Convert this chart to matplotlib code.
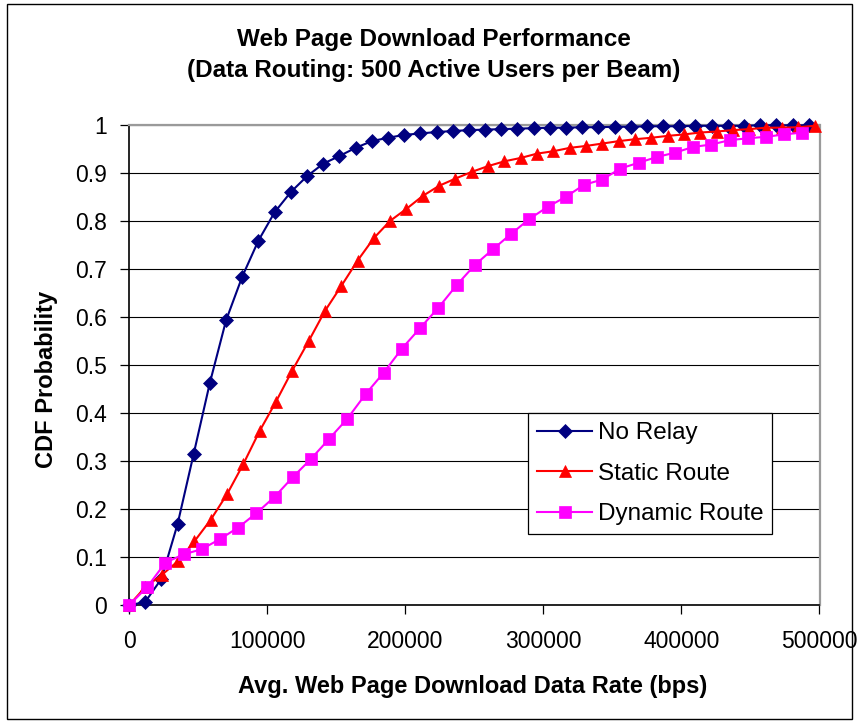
import matplotlib
matplotlib.use("Agg")
import matplotlib.pyplot as plt
from matplotlib.patches import Rectangle

plt.rcParams['font.family'] = ['Liberation Sans', 'DejaVu Sans']

# ---------------- data ----------------
no_relay_x = [0, 11720, 23440, 35160, 46880, 58600, 70320, 82040, 93760, 105480,
              117200, 128920, 140640, 152360, 164080, 175800, 187520, 199240, 210960,
              222680, 234400, 246120, 257840, 269560, 281280, 293000, 304720, 316440,
              328160, 339880, 351600, 363320, 375040, 386760, 398480, 410200, 421920,
              433640, 445360, 457080, 468800, 480520, 492240]
no_relay_y = [0, 0.007, 0.055, 0.169, 0.316, 0.464, 0.594, 0.685, 0.760, 0.819,
              0.861, 0.894, 0.920, 0.936, 0.953, 0.967, 0.974, 0.980, 0.983,
              0.986, 0.988, 0.990, 0.991, 0.992, 0.993, 0.994, 0.995, 0.995,
              0.996, 0.996, 0.997, 0.997, 0.998, 0.998, 0.998, 0.999, 0.999,
              0.999, 0.999, 1.0, 1.0, 1.0, 1.0]

static_x = [0, 11820, 23640, 35460, 47280, 59100, 70920, 82740, 94560, 106380,
            118200, 130020, 141840, 153660, 165480, 177300, 189120, 200940, 212760,
            224580, 236400, 248220, 260040, 271860, 283680, 295500, 307320, 319140,
            330960, 342780, 354600, 366420, 378240, 390060, 401880, 413700, 425520,
            437340, 449160, 460980, 472800, 484620, 496440]
static_y = [0, 0.038, 0.063, 0.092, 0.133, 0.178, 0.231, 0.294, 0.363, 0.424,
            0.489, 0.550, 0.613, 0.665, 0.718, 0.765, 0.801, 0.826, 0.853,
            0.874, 0.889, 0.903, 0.915, 0.925, 0.932, 0.941, 0.946, 0.953,
            0.957, 0.962, 0.967, 0.971, 0.974, 0.978, 0.981, 0.985, 0.987,
            0.990, 0.992, 0.995, 0.995, 0.996, 0.999]

dynamic_x = [0, 13180, 26360, 39540, 52720, 65900, 79080, 92260, 105440, 118620,
             131800, 144980, 158160, 171340, 184520, 197700, 210880, 224060, 237240,
             250420, 263600, 276780, 289960, 303140, 316320, 329500, 342680, 355860,
             369040, 382220, 395400, 408580, 421760, 434940, 448120, 461300, 474480,
             487660]
dynamic_y = [0, 0.038, 0.089, 0.106, 0.117, 0.138, 0.162, 0.192, 0.226, 0.267,
             0.305, 0.347, 0.389, 0.440, 0.485, 0.535, 0.578, 0.620, 0.667,
             0.709, 0.742, 0.774, 0.805, 0.830, 0.851, 0.876, 0.887, 0.910,
             0.922, 0.934, 0.943, 0.955, 0.960, 0.969, 0.973, 0.976, 0.981,
             0.985]

series_labels = ['No Relay', 'Static Route', 'Dynamic Route']
x_ticks = [0, 100000, 200000, 300000, 400000, 500000]
x_tick_labels = ['0', '100000', '200000', '300000', '400000', '500000']
y_ticks = [0, 0.1, 0.2, 0.3, 0.4, 0.5, 0.6, 0.7, 0.8, 0.9, 1.0]
y_tick_labels = ['0', '0.1', '0.2', '0.3', '0.4', '0.5', '0.6', '0.7', '0.8', '0.9', '1']

title_1 = 'Web Page Download Performance'
title_2 = '(Data Routing: 500 Active Users per Beam)'
x_label = 'Avg. Web Page Download Data Rate (bps)'
y_label = 'CDF Probability'

# ---------------- figure ----------------
W, H = 859, 728
fig = plt.figure(figsize=(W / 100, H / 100), dpi=100)
fig.patch.set_facecolor('white')

ax_l, ax_r, ax_t, ax_b = 129, 819.5, 125.3, 605.3
ax = fig.add_axes([ax_l / W, 1 - ax_b / H, (ax_r - ax_l) / W, (ax_b - ax_t) / H])

ax.set_xlim(0, 500000)
ax.set_ylim(0, 1)

ax.yaxis.grid(True, color='black', linewidth=0.8)
ax.set_axisbelow(True)

styles = [
    dict(color='#000080', marker='D', markersize=6.8),
    dict(color='#FF0000', marker='^', markersize=9.0),
    dict(color='#FF00FF', marker='s', markersize=8.0),
]
data = [(no_relay_x, no_relay_y), (static_x, static_y), (dynamic_x, dynamic_y)]
for (xs, ys), st, lab in zip(data, styles, series_labels):
    ax.plot(xs, ys, color=st['color'], linewidth=1.5, marker=st['marker'],
            markersize=st['markersize'], markerfacecolor=st['color'],
            markeredgecolor=st['color'], markeredgewidth=0.5, label=lab,
            clip_on=False, zorder=3)

ax.set_xticks(x_ticks)
ax.set_xticklabels(x_tick_labels)
ax.set_yticks(y_ticks)
ax.set_yticklabels(y_tick_labels)
ax.tick_params(axis='both', direction='out', length=6.5, width=0.9,
               colors='black', labelsize=16.5)
ax.tick_params(axis='y', pad=9.5)
ax.tick_params(axis='x', pad=11)

for side in ['left', 'bottom']:
    ax.spines[side].set_color('black')
    ax.spines[side].set_linewidth(1.2)
for side in ['top', 'right']:
    ax.spines[side].set_color('#9a9a9a')
    ax.spines[side].set_linewidth(1.6)

# titles and labels
fig.text(434 / W, 1 - 39.7 / H, title_1, ha='center', va='center',
         fontsize=17.5, fontweight='bold')
fig.text(434 / W, 1 - 70.3 / H, title_2, ha='center', va='center',
         fontsize=17.5, fontweight='bold')
fig.text(473 / W, 1 - 687 / H, x_label, ha='center', va='center',
         fontsize=17, fontweight='bold')
fig.text(47 / W, 1 - 379 / H, y_label, ha='center', va='center',
         rotation=90, fontsize=17, fontweight='bold')

# legend
leg = ax.legend(loc='upper left',
                bbox_to_anchor=(528 / W, 1 - 413 / H),
                bbox_transform=fig.transFigure,
                fontsize=17.5, frameon=True, fancybox=False, shadow=False,
                borderaxespad=0, borderpad=0.38, handlelength=2.26,
                handletextpad=0.22, labelspacing=0.76)
leg.get_frame().set_edgecolor('black')
leg.get_frame().set_linewidth(0.9)
leg.get_frame().set_facecolor('white')
leg.get_frame().set_alpha(1)
leg.set_zorder(5)

# outer frame
fig.patches.append(Rectangle((6.5 / W, 1 - 719 / H), (852 - 6.5) / W, (719 - 4) / H,
                             transform=fig.transFigure, fill=False,
                             edgecolor='black', linewidth=1.0))

fig.savefig('out.png', dpi=100)
